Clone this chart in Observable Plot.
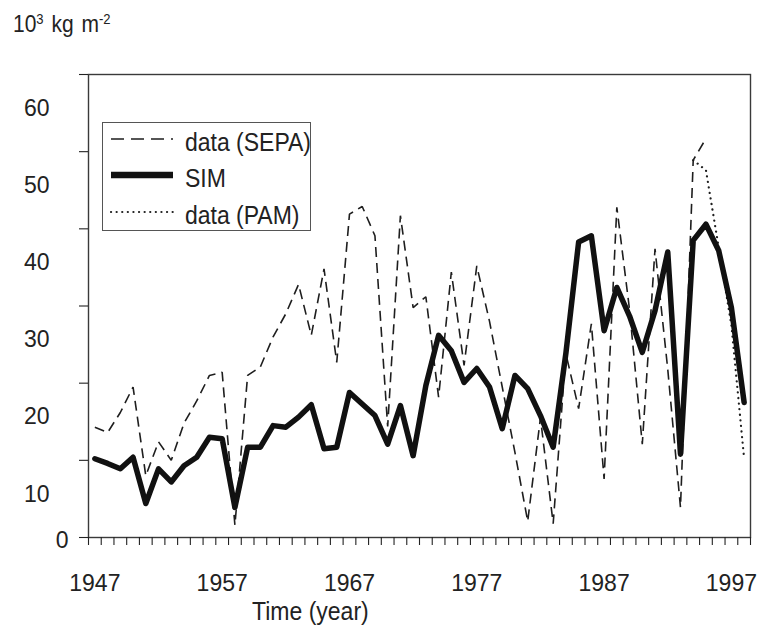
<!DOCTYPE html>
<html>
<head>
<meta charset="utf-8">
<script src="https://cdn.jsdelivr.net/npm/d3@7"></script>
<script src="https://cdn.jsdelivr.net/npm/@observablehq/plot@0.6"></script>
<style>
  body { margin: 0; background: #fff; }
  #wrap { position: relative; width: 759px; height: 628px; font-family: "Liberation Sans", Arial, Helvetica, sans-serif; color: #222; overflow: hidden; }
  #chart { position: absolute; left: 0; top: 0; }
  .lbl { position: absolute; white-space: nowrap; line-height: 1; transform: scaleY(1.13); transform-origin: left bottom; }
  .sup { font-size: 0.62em; position: relative; top: -0.55em; }
  #legend text { transform-box: fill-box; transform-origin: center; transform: scaleY(1.1); }
</style>
</head>
<body>
<div id="wrap">
  <div id="chart"></div>
  <div class="lbl" id="unit" style="left:13px; top:14px; font-size:21px; word-spacing:2px;">10<span class="sup">3</span> kg m<span class="sup">-2</span></div>
  <div class="lbl" id="xtitle" style="left:252px; top:602px; font-size:23px;">Time (year)</div>
  <div id="legend" style="position:absolute; left:102px; top:122px; width:209px; height:109px; border:1px solid #555; background:#fff; box-sizing:border-box;"></div>
</div>
<script>
// ---- data ----
const years = [1947,1948,1949,1950,1951,1952,1953,1954,1955,1956,1957,1958,1959,1960,
  1961,1962,1963,1964,1965,1966,1967,1968,1969,1970,1971,1972,1973,1974,1975,1976,
  1977,1978,1979,1980,1981,1982,1983,1984,1985,1986,1987,1988,1989,1990,1991,1992,
  1993,1994,1995,1996,1997,1998];

const simValues = [10.2,9.6,8.9,10.4,4.4,8.9,7.2,9.3,10.4,13.0,12.8,3.9,11.7,11.7,
  14.5,14.3,15.6,17.2,11.5,11.7,18.8,17.3,15.8,12.1,17.1,10.6,19.7,26.2,24.2,20.1,
  21.9,19.5,14.1,21.0,19.3,15.8,11.7,23.9,38.3,39.1,26.8,32.4,28.7,24.0,29.4,37.0,
  10.8,38.5,40.6,37.2,29.8,17.5];

const sepaYears = [1947,1948,1949,1950,1951,1952,1953,1954,1955,1956,1957,1958,1959,1960,
  1961,1962,1963,1964,1965,1966,1967,1968,1969,1970,1971,1972,1973,1974,1975,1976,
  1977,1978,1979,1980,1981,1982,1983,1984,1985,1986,1987,1988,1989,1990,1991,1992,
  1993,1994,1995];
const sepaValues = [14.3,13.6,16.2,19.5,8.0,12.4,10.0,14.8,17.7,21.0,21.4,1.6,21.0,22.1,
  26.0,29.0,32.8,26.2,34.8,22.7,41.9,42.9,39.1,14.4,41.7,29.8,31.2,18.2,34.4,22.3,
  35.2,28.0,19.5,11.0,2.1,15.5,1.8,23.8,16.7,27.7,7.6,42.8,29.5,12.1,37.4,21.8,
  3.9,48.9,51.7];

const pamYears = [1994,1995,1996,1997,1998];
const pamValues = [48.9,47.6,37.6,27.5,10.2];

const xTickLabels = [1947,1957,1967,1977,1987,1997];
const yTickLabels = [0,10,20,30,40,50,60];
const seriesNames = ["data (SEPA)", "SIM", "data (PAM)"];

// ---- styles ----
const FONT = '"Liberation Sans", Arial, Helvetica, sans-serif';
const styles = {
  "data (SEPA)": {stroke: "#1e1e1e", strokeWidth: 1.6, strokeDasharray: "10,6", strokeLinecap: "butt"},
  "SIM": {stroke: "#111", strokeWidth: 5.5, strokeDasharray: null, strokeLinecap: "round"},
  "data (PAM)": {stroke: "#1e1e1e", strokeWidth: 2.2, strokeDasharray: "0.1,5.5", strokeLinecap: "round"}
};

// year bands: each year sits between two tick marks
const yearBounds = years.concat([years[years.length - 1] + 1]).map(y => y - 0.5);
// value labels sit between tick marks in the source figure
const LABEL_SHIFT = 4.4;

const plot = Plot.plot({
  width: 759,
  height: 628,
  marginLeft: 88,
  marginRight: 9,
  marginTop: 74,
  marginBottom: 91,
  style: {fontFamily: FONT, fontSize: "23px", color: "#222", background: "transparent"},
  x: {domain: [yearBounds[0], yearBounds[yearBounds.length - 1]], label: null},
  y: {domain: [yTickLabels[0], yTickLabels[yTickLabels.length - 1]], label: null},
  marks: [
    Plot.frame({stroke: "#3a3a3a", strokeWidth: 1.4}),
    Plot.axisX(yearBounds, {tickSize: 8, tickFormat: () => "", strokeWidth: 1.1}),
    Plot.axisX(xTickLabels, {tickSize: 0, tickPadding: 37, tickFormat: d => String(d), fontSize: 23, fontFamily: FONT}),
    Plot.axisY(yTickLabels, {tickSize: 9, tickFormat: () => "", strokeWidth: 1.1}),
    Plot.axisY(yTickLabels.filter(v => v > 0).map(v => v - LABEL_SHIFT),
      {tickSize: 0, tickPadding: 39, tickFormat: d => String(Math.round(d + LABEL_SHIFT)), fontSize: 23, fontFamily: FONT}),
    Plot.axisY(yTickLabels.filter(v => v === 0),
      {tickSize: 0, tickPadding: 20, tickFormat: d => String(d), fontSize: 23, fontFamily: FONT, dy: 3}),
    Plot.line(sepaValues, {x: (d, i) => sepaYears[i], y: d => d, ...styles["data (SEPA)"], strokeLinejoin: "miter"}),
    Plot.line(pamValues, {x: (d, i) => pamYears[i], y: d => d, ...styles["data (PAM)"], strokeLinejoin: "round"}),
    Plot.line(simValues, {x: (d, i) => years[i], y: d => d, ...styles["SIM"], strokeLinejoin: "round"})
  ]
});
document.getElementById("chart").appendChild(plot);

// ---- legend ----
const rowCenters = [20, 56, 93];
const lg = d3.select("#legend").append("svg")
  .attr("width", 207).attr("height", 107)
  .style("position", "absolute").style("left", "0px").style("top", "0px");
seriesNames.forEach((name, i) => {
  const s = styles[name];
  const cy = rowCenters[i] - 1;
  const ln = lg.append("line")
    .attr("x1", 8).attr("x2", 70)
    .attr("y1", cy - 3).attr("y2", cy - 3)
    .attr("stroke", s.stroke).attr("stroke-width", name === "SIM" ? 6.5 : s.strokeWidth)
    .attr("stroke-linecap", name === "SIM" ? "butt" : s.strokeLinecap);
  if (s.strokeDasharray) ln.attr("stroke-dasharray", name === "data (SEPA)" ? "13,7" : s.strokeDasharray);
  lg.append("text")
    .attr("x", 82).attr("y", cy).attr("dy", "0.35em")
    .attr("font-family", FONT).attr("font-size", 23).attr("fill", "#222")
    .text(name);
});
</script>
</body>
</html>
